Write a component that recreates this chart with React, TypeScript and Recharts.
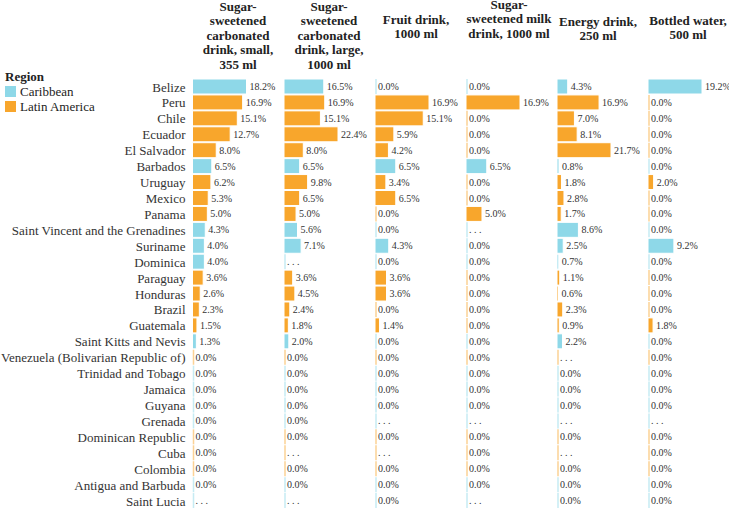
import { Bar, BarChart, LabelList, XAxis, YAxis } from "recharts";

const countries = [
  "Belize", "Peru", "Chile", "Ecuador", "El Salvador", "Barbados", "Uruguay", "Mexico", "Panama",
  "Saint Vincent and the Grenadines", "Suriname", "Dominica", "Paraguay", "Honduras", "Brazil",
  "Guatemala", "Saint Kitts and Nevis", "Venezuela (Bolivarian Republic of)", "Trinidad and Tobago",
  "Jamaica", "Guyana", "Grenada", "Dominican Republic", "Cuba", "Colombia", "Antigua and Barbuda",
  "Saint Lucia",
];

// C = Caribbean, L = Latin America
const regions = [
  "C", "L", "L", "L", "L", "C", "L", "L", "L", "C", "C", "C", "L", "L", "L",
  "L", "C", "L", "C", "C", "C", "C", "L", "L", "L", "C", "C",
];

const headers = [
  ["Sugar-", "sweetened", "carbonated", "drink, small,", "355 ml"],
  ["Sugar-", "sweetened", "carbonated", "drink, large,", "1000 ml"],
  ["Fruit drink,", "1000 ml"],
  ["Sugar-", "sweetened milk", "drink, 1000 ml"],
  ["Energy drink,", "250 ml"],
  ["Bottled water,", "500 ml"],
];

// null = no data (". . .")
const sscSmall = [18.2, 16.9, 15.1, 12.7, 8.0, 6.5, 6.2, 5.3, 5.0, 4.3, 4.0, 4.0, 3.6, 2.6, 2.3, 1.5, 1.3, 0, 0, 0, 0, 0, 0, 0, 0, 0, null];
const sscLarge = [16.5, 16.9, 15.1, 22.4, 8.0, 6.5, 9.8, 6.5, 5.0, 5.6, 7.1, null, 3.6, 4.5, 2.4, 1.8, 2.0, 0, 0, 0, 0, 0, 0, null, 0, 0, null];
const fruit = [0, 16.9, 15.1, 5.9, 4.2, 6.5, 3.4, 6.5, 0, 0, 4.3, 0, 3.6, 3.6, 0, 1.4, 0, 0, 0, 0, 0, null, 0, null, 0, 0, 0];
const milk = [0, 16.9, 0, 0, 0, 6.5, 0, 0, 5.0, null, 0, 0, 0, 0, 0, 0, 0, 0, 0, 0, 0, null, 0, 0, 0, 0, null];
const energy = [4.3, 16.9, 7.0, 8.1, 21.7, 0.8, 1.8, 2.8, 1.7, 8.6, 2.5, 0.7, 1.1, 0.6, 2.3, 0.9, 2.2, null, 0, 0, 0, null, 0, null, 0, 0, 0];
const water = [19.2, 0, 0, 0, 0, 0, 2.0, 0, 0, 0, 9.2, 0, 0, 0, 0, 1.8, 0, 0, 0, 0, 0, null, 0, 0, 0, 0, 0];

const series = [sscSmall, sscLarge, fruit, milk, energy, water];

const COLORS: Record<string, string> = { C: "#8ed8e8", L: "#f8a62c" };
const FONT = "Liberation Serif, Times New Roman, serif";

const PANEL_LEFT = 192.5;
const PANEL_W = 91;
const BAR_MAX_PX = 54;
const CHART_H = 509;
const TOP = 79;
const headerTops = [0, 0, 13, -2, 14.5, 13.5];
const headerShift = [0, 0, -4, -2, -4, -5];

type Row = { country: string; region: string; v: number; label: string };

const buildRows = (values: (number | null)[]): Row[] =>
  countries.map((country, i) => ({
    country,
    region: regions[i],
    v: values[i] ?? 0,
    label: values[i] == null ? ". . ." : `${(values[i] as number).toFixed(1)}%`,
  }));

function BarShape(props: any) {
  const { x, y, width, height, payload } = props;
  const color = COLORS[payload.region];
  return (
    <g>
      <line x1={x + 1} x2={x + 1} y1={y} y2={y + height} stroke={color} strokeOpacity={0.5} strokeWidth={1.5} />
      {width > 0 && <rect x={x} y={y} width={width} height={height} fill={color} stroke="#fff" strokeWidth={1} />}
    </g>
  );
}

function CountryTick({ x, y, payload }: any) {
  return (
    <text x={x} y={y} dy="0.35em" textAnchor="end" fill="#333" fontSize={13} fontFamily={FONT}>
      {payload.value}
    </text>
  );
}

function Panel({ values, index }: { values: (number | null)[]; index: number }) {
  const data = buildRows(values);
  const max = Math.max(...data.map((d) => d.v));
  const first = index === 0;
  const left = first ? 0 : PANEL_LEFT + PANEL_W * index;
  return (
    <div style={{ position: "absolute", left, top: 0 }}>
      <BarChart
        width={(first ? PANEL_LEFT : 0) + PANEL_W}
        height={CHART_H}
        data={data}
        layout="vertical"
        margin={{ top: TOP, right: 0, bottom: 0, left: 0 }}
        barCategoryGap={0}
      >
        <XAxis type="number" hide domain={[0, (max * PANEL_W) / BAR_MAX_PX]} />
        <YAxis
          type="category"
          dataKey="country"
          hide={!first}
          width={first ? PANEL_LEFT : 0}
          axisLine={false}
          tickLine={false}
          tickSize={0}
          tickMargin={7}
          interval={0}
          tick={<CountryTick />}
        />
        <Bar dataKey="v" barSize={15} shape={<BarShape />} isAnimationActive={false}>
          <LabelList
            dataKey="label"
            position="right"
            offset={3}
            fill="#333"
            fontSize={10}
            fontFamily={FONT}
          />
        </Bar>
      </BarChart>
    </div>
  );
}

export default function App() {
  return (
    <div
      style={{
        position: "absolute",
        left: 0,
        top: 0,
        width: 729,
        height: 508,
        overflow: "hidden",
        background: "#fff",
        fontFamily: FONT,
      }}
    >
      {series.map((values, i) => (
        <Panel key={i} values={values} index={i} />
      ))}
      {headers.map((lines, i) => (
        <div
          key={i}
          style={{
            position: "absolute",
            left: PANEL_LEFT + PANEL_W * i + headerShift[i],
            top: headerTops[i],
            width: PANEL_W,
            textAlign: "center",
            fontWeight: "bold",
            fontSize: 13,
            lineHeight: "14.4px",
            color: "#222",
            whiteSpace: "nowrap",
            fontFamily: FONT,
          }}
        >
          {lines.map((l, j) => (
            <div key={j}>{l}</div>
          ))}
        </div>
      ))}
      <div style={{ position: "absolute", left: 5, top: 69, fontSize: 13, color: "#222", lineHeight: "15px", fontFamily: FONT }}>
        <div style={{ fontWeight: "bold" }}>Region</div>
        {[
          ["C", "Caribbean"],
          ["L", "Latin America"],
        ].map(([k, name]) => (
          <div key={k} style={{ display: "flex", alignItems: "center" }}>
            <span style={{ width: 11, height: 11, background: COLORS[k], marginRight: 4, display: "inline-block" }} />
            <span>{name}</span>
          </div>
        ))}
      </div>
    </div>
  );
}
